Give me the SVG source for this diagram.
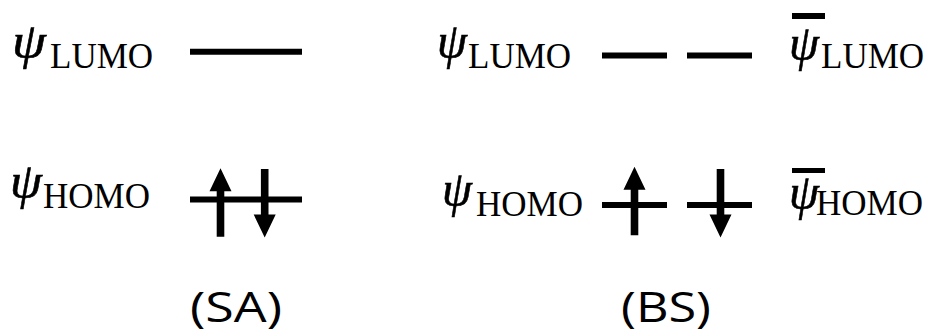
<svg xmlns="http://www.w3.org/2000/svg" width="935" height="336" viewBox="0 0 935 336">
<style>
.psi{font-family:"Liberation Serif","Times New Roman",serif;font-style:italic;font-size:50px;fill:#000;stroke:#000;stroke-width:0.6}
.sub{font-family:"Liberation Serif","Times New Roman",serif;font-size:35px;fill:#000}
.cap{font-family:"Open Sans","Liberation Sans",sans-serif;font-size:42px;fill:#000}
.lvl{stroke:#000;stroke-width:6;fill:none}
.bar{fill:#000}
.e{fill:#000}
</style>
<defs>
<path id="up" d="M -3.8 68.5 L -3.8 23 L -11 23 L 0 0 L 11 23 L 3.8 23 L 3.8 68.5 Z"/>
<path id="down" d="M -3.8 0 L 3.8 0 L 3.8 45.5 L 11 45.5 L 0 68.5 L -11 45.5 L -3.8 45.5 Z"/>
</defs>
<rect width="935" height="336" fill="#fff"/>
<g id="sa-lumo-label"><text class="psi" x="12" y="58" textLength="34" lengthAdjust="spacingAndGlyphs">ψ</text><text class="sub" x="50" y="68">LUMO</text></g>
<g id="sa-lumo-level"><line class="lvl" x1="190" y1="51.7" x2="302" y2="51.7"/></g>
<g id="sa-homo-label"><text class="psi" x="10" y="198" textLength="32" lengthAdjust="spacingAndGlyphs">ψ</text><text class="sub" x="43" y="208">HOMO</text></g>
<g id="sa-homo-level"><line class="lvl" x1="190" y1="199.5" x2="302" y2="199.5"/></g>
<g id="sa-caption"><text class="cap" x="190" y="322" textLength="92" lengthAdjust="spacingAndGlyphs">(SA)</text></g>
<g id="bs-lumo-label"><text class="psi" x="437" y="58" textLength="30" lengthAdjust="spacingAndGlyphs">ψ</text><text class="sub" x="468" y="68">LUMO</text></g>
<g id="bs-lumo-level-a"><line class="lvl" x1="602" y1="55.5" x2="667" y2="55.5"/></g>
<g id="bs-lumo-level-b"><line class="lvl" x1="687" y1="55.5" x2="752" y2="55.5"/></g>
<g id="bs-lumobar-label"><rect class="bar" x="792" y="13" width="33" height="6"/><text class="psi" x="789" y="60" textLength="30" lengthAdjust="spacingAndGlyphs">ψ</text><text class="sub" x="821" y="68">LUMO</text></g>
<g id="bs-homo-label"><text class="psi" x="442" y="206" textLength="30" lengthAdjust="spacingAndGlyphs">ψ</text><text class="sub" x="476" y="216">HOMO</text></g>
<g id="bs-homo-level-a"><line class="lvl" x1="602" y1="205" x2="667" y2="205"/></g>
<g id="bs-homo-level-b"><line class="lvl" x1="687" y1="205" x2="752" y2="205"/></g>
<g id="bs-homobar-label"><rect class="bar" x="792" y="168" width="33" height="5"/><text class="psi" x="789" y="209" textLength="30" lengthAdjust="spacingAndGlyphs">ψ</text><text class="sub" x="816" y="215">HOMO</text></g>
<g id="bs-caption"><text class="cap" x="621" y="322" textLength="90" lengthAdjust="spacingAndGlyphs">(BS)</text></g>
<g id="connectors">
<use href="#up" class="e" x="220.5" y="168.3"/>
<use href="#down" class="e" x="264.7" y="169"/>
<use href="#up" class="e" x="634.5" y="166.7"/>
<use href="#down" class="e" x="720.5" y="169"/>
</g>
</svg>
